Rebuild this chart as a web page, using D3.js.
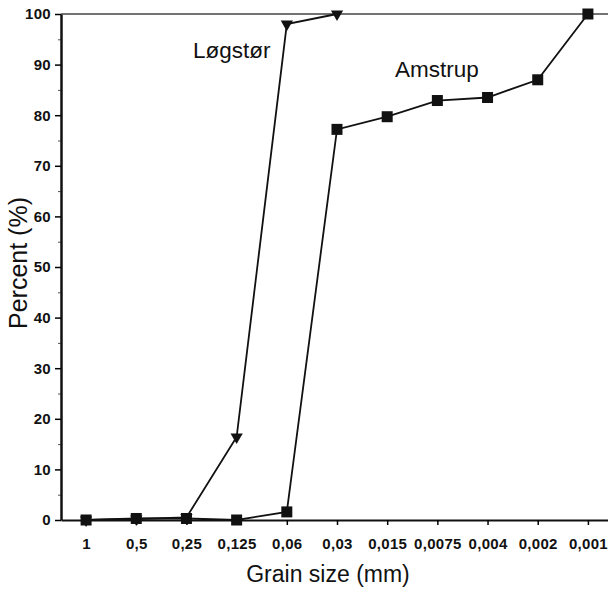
<!DOCTYPE html>
<html>
<head>
<meta charset="utf-8">
<script src="https://cdn.jsdelivr.net/npm/d3@7"></script>
<style>
  body { margin: 0; background: #fff; }
  text { font-family: "Liberation Sans", Arial, sans-serif; fill: #111; }
</style>
</head>
<body>
<div id="chart"></div>
<script>
// grain size classes (mm), shown with decimal comma
var grainSizes = ['1', '0,5', '0,25', '0,125', '0,06', '0,03', '0,015', '0,0075', '0,004', '0,002', '0,001']

// cumulative percent finer
var logstorSizes = ['1', '0,5', '0,25', '0,125', '0,06', '0,03']
var logstorValues = [0, 0.2, 0.5, 16.4, 98, 100]

var amstrupValues = [0, 0.3, 0.3, 0, 1.6, 77.2, 79.7, 82.9, 83.5, 87, 100]

var yTicks = [0, 10, 20, 30, 40, 50, 60, 70, 80, 90, 100]

var width = 608, height = 590
var margin = {top: 14, left: 61, bottom: 70}

var svg = d3.select('#chart')
    .append('svg')
      .attr('width', width)
      .attr('height', height)

var x = d3.scalePoint()
    .domain(grainSizes)
    .range([margin.left, 613])
    .padding(0.5)

var y = d3.scaleLinear()
    .domain([0, 100])
    .range([height - margin.bottom, margin.top])

// top frame line at 100 %
svg.append('line')
    .attr('x1', margin.left).attr('x2', width)
    .attr('y1', y(100)).attr('y2', y(100))
    .attr('stroke', '#444')
    .attr('stroke-width', 1.5)

// minor ticks on y every 5
svg.append('g')
    .attr('transform', 'translate(' + margin.left + ',0)')
    .call(d3.axisLeft(y).tickValues(d3.range(5, 100, 10)).tickSize(3).tickFormat(''))
    .call(g => g.select('.domain').remove())
    .selectAll('line').attr('stroke', '#555')

// y axis
var yAxis = svg.append('g')
    .attr('transform', 'translate(' + margin.left + ',0)')
    .call(d3.axisLeft(y).tickValues(yTicks).tickSize(6).tickPadding(4).tickSizeOuter(0))
yAxis.select('.domain').attr('stroke', '#111').attr('stroke-width', 2.5)
yAxis.selectAll('.tick line').attr('stroke-width', 1.5)

// x axis
var xAxis = svg.append('g')
    .attr('transform', 'translate(0,' + y(0) + ')')
    .call(d3.axisBottom(x).tickSize(5).tickPadding(13).tickSizeOuter(0))
xAxis.select('.domain').attr('stroke', '#111').attr('stroke-width', 2)
xAxis.selectAll('.tick line').attr('stroke-width', 1.5)

svg.selectAll('.tick text')
    .attr('font-family', '"Liberation Sans", Arial, sans-serif')
    .attr('font-size', '15px')
    .attr('font-weight', 'bold')
    .attr('letter-spacing', '0.3px')
    .attr('fill', '#111')

var line = d3.line()
    .x(function(d) { return x(d.size) })
    .y(function(d) { return y(d.value) })

var logstor = logstorSizes.map(function(s, i) { return {size: s, value: logstorValues[i]} })
var amstrup = grainSizes.map(function(s, i) { return {size: s, value: amstrupValues[i]} })

svg.append('path')
    .datum(logstor)
    .attr('fill', 'none')
    .attr('stroke', '#111')
    .attr('stroke-width', 1.8)
    .attr('d', line)

svg.append('path')
    .datum(amstrup)
    .attr('fill', 'none')
    .attr('stroke', '#111')
    .attr('stroke-width', 1.8)
    .attr('d', line)

// triangle markers (Løgstør)
svg.selectAll('.tri')
    .data(logstor)
    .enter().append('path')
      .attr('class', 'tri')
      .attr('transform', function(d) { return 'translate(' + x(d.size) + ',' + y(d.value) + ') rotate(180)' })
      .attr('d', d3.symbol(d3.symbolTriangle, 65))
      .attr('fill', '#111')

// square markers (Amstrup)
svg.selectAll('.sq')
    .data(amstrup)
    .enter().append('rect')
      .attr('class', 'sq')
      .attr('x', function(d) { return x(d.size) - 5.5 })
      .attr('y', function(d) { return y(d.value) - 5.5 })
      .attr('width', 11)
      .attr('height', 11)
      .attr('fill', '#111')

// series labels
svg.append('text')
    .attr('x', 193)
    .attr('y', 58)
    .attr('font-size', '22.5px')
    .text('Løgstør')

svg.append('text')
    .attr('x', 395)
    .attr('y', 77)
    .attr('font-size', '22.5px')
    .text('Amstrup')

// axis titles
svg.append('text')
    .attr('transform', 'translate(27,263) rotate(-90)')
    .attr('text-anchor', 'middle')
    .attr('font-size', '25px')
    .text('Percent (%)')

svg.append('text')
    .attr('x', 328)
    .attr('y', 582)
    .attr('text-anchor', 'middle')
    .attr('font-size', '23px')
    .text('Grain size (mm)')
</script>
</body>
</html>
